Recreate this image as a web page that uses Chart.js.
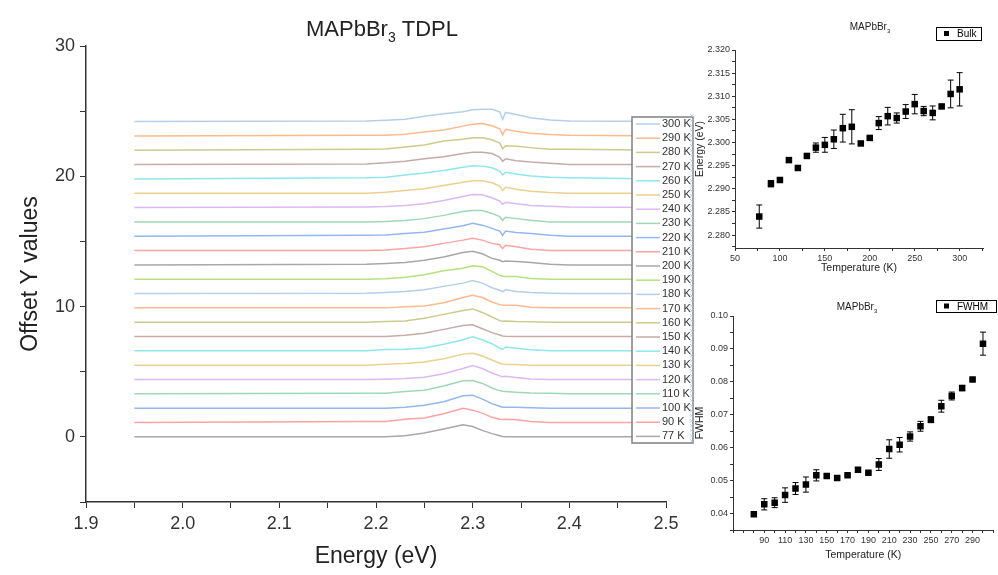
<!DOCTYPE html>
<html lang="en">
<head>
    <meta charset="UTF-8">
    <title>MAPbBr3 TDPL</title>
    <script src="https://cdn.jsdelivr.net/npm/chart.js"></script>
    <style>
        body {
            margin: 0;
            padding: 0;
            background: #fff;
            width: 998px;
            height: 575px;
            overflow: hidden;
            position: relative;
        }
        canvas {
            position: absolute;
        }
        #pl-chart { left: 0; top: 0; }
        #energy-chart { left: 690px; top: 0; }
        #fwhm-chart { left: 690px; top: 290px; }
    </style>
</head>
<body>
    <canvas id="pl-chart" width="700" height="575"></canvas>
    <canvas id="energy-chart" width="308" height="290"></canvas>
    <canvas id="fwhm-chart" width="308" height="285"></canvas>

    <script>
        // ---- PL spectra (offset stacked) ----
        const energyGrid = [1.95, 2.19, 2.21, 2.23, 2.25, 2.27, 2.29, 2.30, 2.31, 2.32, 2.328, 2.331, 2.334, 2.345, 2.36, 2.38, 2.40, 2.50];
        const tempLabels = ['77 K', '90 K', '100 K', '110 K', '120 K', '130 K', '140 K', '150 K', '160 K', '170 K', '180 K', '190 K',
                            '200 K', '210 K', '220 K', '230 K', '240 K', '250 K', '260 K', '270 K', '280 K', '290 K', '300 K'];
        const offsets = [0, 1.1, 2.2, 3.3, 4.4, 5.5, 6.6, 7.7, 8.8, 9.9, 11.0, 12.1, 13.2, 14.3, 15.4, 16.5, 17.6, 18.7, 19.8, 20.9, 22.0, 23.1, 24.2];

        const pl77  = [0, 0, 0, 0.08, 0.3, 0.6, 0.92, 0.8, 0.5, 0.25, 0.08, 0.02, 0, 0, 0, 0, 0, 0];
        const pl90  = [0, 0.08, 0.08, 0.25, 0.35, 0.67, 1.1, 0.95, 0.72, 0.4, 0.25, 0.23, 0.25, 0.22, 0.08, 0, 0, 0];
        const pl100 = [0, 0, 0, 0.08, 0.23, 0.5, 0.95, 1.0, 0.7, 0.35, 0.15, 0.08, 0.08, 0.07, 0.03, 0, 0, 0];
        const pl110 = [0, 0.05, 0.05, 0.18, 0.28, 0.6, 1.0, 1.03, 0.8, 0.45, 0.25, 0.2, 0.18, 0.12, 0.07, 0.05, 0, 0];
        const pl120 = [0, 0, 0.03, 0.08, 0.18, 0.45, 0.85, 1.07, 0.85, 0.5, 0.28, 0.22, 0.25, 0.15, 0.05, 0, 0, 0];
        const pl130 = [0, 0, 0.08, 0.13, 0.25, 0.5, 0.85, 0.92, 0.7, 0.4, 0.15, 0.1, 0.08, 0.05, 0, 0, 0, 0];
        const pl140 = [0, 0, 0.1, 0.13, 0.22, 0.5, 0.85, 1.08, 0.85, 0.55, 0.2, 0.12, 0.3, 0.2, 0.08, 0, 0, 0];
        const pl150 = [0, 0, 0, 0.1, 0.25, 0.55, 0.85, 0.9, 0.6, 0.3, 0.12, 0.05, 0.03, 0, 0, 0, 0, 0];
        const pl160 = [0, 0, 0.05, 0.1, 0.3, 0.6, 0.9, 1.02, 0.75, 0.4, 0.12, 0.08, 0.1, 0.05, 0.03, 0, 0, 0];
        const pl170 = [0, 0, 0, 0.08, 0.15, 0.4, 0.8, 0.97, 0.8, 0.45, 0.25, 0.2, 0.2, 0.2, 0.05, 0, 0, 0];
        const pl180 = [0, 0.03, 0.08, 0.15, 0.3, 0.55, 0.8, 1.0, 0.8, 0.45, 0.25, 0.13, 0.3, 0.15, 0.08, 0.03, 0, 0];
        const pl190 = [0, 0, 0.03, 0.15, 0.35, 0.65, 0.85, 1.03, 0.95, 0.6, 0.3, 0.22, 0.2, 0.2, 0.05, 0, 0, 0];
        const pl200 = [0, 0.05, 0.1, 0.18, 0.35, 0.6, 0.95, 1.05, 0.85, 0.5, 0.35, 0.25, 0.3, 0.25, 0.18, 0.05, 0, 0];
        const pl210 = [0, 0, 0.05, 0.15, 0.3, 0.55, 0.8, 0.95, 0.8, 0.55, 0.45, 0.15, 0.4, 0.3, 0.1, 0, 0, 0];
        const pl220 = [0, 0.08, 0.1, 0.2, 0.3, 0.55, 0.8, 1.0, 0.85, 0.6, 0.4, 0.07, 0.4, 0.28, 0.2, 0.08, 0, 0];
        const pl230 = [0, 0, 0.03, 0.1, 0.25, 0.5, 0.8, 0.88, 0.88, 0.65, 0.4, 0.12, 0.35, 0.25, 0.12, 0, 0, 0];
        const pl240 = [0, 0.05, 0.08, 0.15, 0.3, 0.55, 0.85, 1.0, 0.98, 0.75, 0.5, 0.25, 0.4, 0.3, 0.15, 0.1, 0.05, 0];
        const pl250 = [0, 0, 0.08, 0.2, 0.35, 0.6, 0.85, 0.95, 0.95, 0.8, 0.55, 0.2, 0.45, 0.3, 0.15, 0.05, 0, 0];
        const pl260 = [0, 0.08, 0.12, 0.3, 0.45, 0.65, 0.9, 1.0, 0.98, 0.85, 0.6, 0.3, 0.5, 0.38, 0.22, 0.12, 0.08, 0];
        const pl270 = [0, 0.05, 0.13, 0.25, 0.45, 0.6, 0.85, 0.95, 0.95, 0.85, 0.55, 0.25, 0.45, 0.3, 0.2, 0.1, 0, 0];
        const pl280 = [0, 0.08, 0.1, 0.25, 0.4, 0.7, 0.85, 0.95, 0.95, 0.8, 0.55, 0.12, 0.35, 0.3, 0.2, 0.08, 0.08, 0];
        const pl290 = [0, 0.05, 0.05, 0.12, 0.3, 0.45, 0.75, 0.9, 0.95, 0.78, 0.55, 0.1, 0.5, 0.35, 0.2, 0.1, 0.05, 0];
        const pl300 = [0, 0.05, 0.1, 0.18, 0.4, 0.6, 0.75, 0.9, 0.95, 0.95, 0.75, 0.18, 0.7, 0.55, 0.3, 0.12, 0.05, 0];
        const plSeries = [pl77, pl90, pl100, pl110, pl120, pl130, pl140, pl150, pl160, pl170, pl180, pl190,
                          pl200, pl210, pl220, pl230, pl240, pl250, pl260, pl270, pl280, pl290, pl300];

        // ---- peak energy vs temperature ----
        const bulkTemps = [77, 90, 100, 110, 120, 130, 140, 150, 160, 170, 180, 190, 200, 210, 220, 230, 240, 250, 260, 270, 280, 290, 300];
        const bulkEnergy = [2.2840, 2.2911, 2.2919, 2.2962, 2.2945, 2.2971, 2.2989, 2.2995, 2.3007, 2.3031, 2.3034, 2.2998,
                            2.3010, 2.3042, 2.3057, 2.3053, 2.3067, 2.3083, 2.3068, 2.3064, 2.3078, 2.3105, 2.3115];
        const bulkErr = [0.0025, 0.0007, 0.0004, 0.0005, 0.0003, 0.0003, 0.0010, 0.0016, 0.0020, 0.0030, 0.0037, 0.0002,
                         0.0003, 0.0014, 0.0019, 0.0011, 0.0015, 0.0021, 0.0010, 0.0015, 0.0004, 0.0030, 0.0036];

        // ---- FWHM vs temperature ----
        const fwhmTemps = [80, 90, 100, 110, 120, 130, 140, 150, 160, 170, 180, 190, 200, 210, 220, 230, 240, 250, 260, 270, 280, 290, 300];
        const fwhmValues = [0.0398, 0.0428, 0.0433, 0.0456, 0.0476, 0.0488, 0.0516, 0.0514, 0.0508, 0.0516, 0.0533, 0.0524,
                            0.0549, 0.0596, 0.0609, 0.0634, 0.0665, 0.0685, 0.0726, 0.0757, 0.0781, 0.0807, 0.0916];
        const fwhmErr = [0.0003, 0.0017, 0.0015, 0.0022, 0.0018, 0.0023, 0.0017, 0.0004, 0.0003, 0.0003, 0.0004, 0.0003,
                         0.0018, 0.0028, 0.0022, 0.0014, 0.0015, 0.0009, 0.0018, 0.0012, 0.0008, 0.0004, 0.0035];

        const palette = ['#a8a8a8', '#ffa3a3', '#93b7f2', '#9fd9b4', '#dbb8f6', '#ebd08f', '#8de7ec', '#c6aba7',
                         '#cacc8e', '#ffb98f', '#b3cfec', '#b5e27d'];
        const FONT = '"Liberation Sans", Arial, sans-serif';
        const AXIS = '#333';

        // draws "MAPbBr" with subscript 3 plus optional suffix, centred on cx
        function drawFormula(ctx, cx, y, size, suffix) {
            const sub = Math.round(size * 0.62);
            ctx.save();
            ctx.fillStyle = '#222';
            ctx.textBaseline = 'alphabetic';
            ctx.font = size + 'px ' + FONT;
            const w1 = ctx.measureText('MAPbBr').width;
            const w3 = ctx.measureText(suffix).width;
            ctx.font = sub + 'px ' + FONT;
            const w2 = ctx.measureText('3').width;
            let x = cx - (w1 + w2 + w3) / 2;
            ctx.font = size + 'px ' + FONT;
            ctx.fillText('MAPbBr', x, y);
            ctx.font = sub + 'px ' + FONT;
            ctx.fillText('3', x + w1, y + size * 0.25);
            ctx.font = size + 'px ' + FONT;
            ctx.fillText(suffix, x + w1 + w2, y);
            ctx.restore();
        }

        const onStep = (v, step) => Math.abs(v / step - Math.round(v / step)) < 1e-6;

        // ---------- main PL chart ----------
        const plDatasets = plSeries.map((vals, i) => ({
            label: tempLabels[i],
            data: energyGrid.map((e, j) => ({ x: e, y: offsets[i] + vals[j] })),
            borderColor: palette[i % palette.length],
            borderWidth: 1.5,
            pointRadius: 0,
            tension: 0,
            fill: false
        }));

        const plDecor = {
            id: 'plDecor',
            afterDraw(chart) {
                const ctx = chart.ctx;
                drawFormula(ctx, 382, 36, 22, ' TDPL');
                // legend box
                ctx.save();
                ctx.fillStyle = '#fff';
                ctx.fillRect(632, 117, 61, 326);
                ctx.strokeStyle = '#7f7f7f';
                ctx.lineWidth = 1.5;
                ctx.strokeRect(632, 117, 61, 326);
                ctx.font = '11px ' + FONT;
                ctx.textBaseline = 'middle';
                ctx.fillStyle = '#333';
                for (let k = 0; k < tempLabels.length; k++) {
                    const i = tempLabels.length - 1 - k;
                    const y = 124 + k * 14.2;
                    ctx.strokeStyle = palette[i % palette.length];
                    ctx.lineWidth = 1.5;
                    ctx.beginPath();
                    ctx.moveTo(636, y);
                    ctx.lineTo(660, y);
                    ctx.stroke();
                    ctx.fillText(tempLabels[i], 662, y);
                }
                // faint hatched selection strip beside the legend
                ctx.strokeStyle = '#b4c3dc';
                ctx.lineWidth = 0.8;
                ctx.beginPath();
                for (let y = 114; y < 440; y += 5) {
                    ctx.moveTo(690, y); ctx.lineTo(693.5, y + 3.5);
                    ctx.moveTo(693.5, y); ctx.lineTo(690, y + 3.5);
                }
                ctx.stroke();
                ctx.restore();
            }
        };

        new Chart(document.getElementById('pl-chart'), {
            type: 'line',
            data: { datasets: plDatasets },
            options: {
                responsive: false,
                animation: false,
                layout: { padding: { left: 0, top: 46, right: 34, bottom: 0 } },
                plugins: { legend: { display: false }, tooltip: { enabled: false } },
                scales: {
                    x: {
                        type: 'linear', min: 1.9, max: 2.5,
                        ticks: {
                            stepSize: 0.05, autoSkip: false, maxRotation: 0, padding: 5,
                            color: AXIS, font: { size: 18, family: FONT },
                            callback: v => onStep(v, 0.1) ? v.toFixed(1) : ''
                        },
                        grid: { drawOnChartArea: false, tickLength: 6, color: AXIS },
                        border: { color: AXIS, width: 1.5 },
                        title: { display: true, text: 'Energy (eV)', color: '#222', font: { size: 23, family: FONT }, padding: { bottom: 5 } },
                        afterFit(s) { s.height = 73; }
                    },
                    y: {
                        type: 'linear', min: -5, max: 30,
                        ticks: {
                            stepSize: 5, autoSkip: false, padding: 5,
                            color: AXIS, font: { size: 18, family: FONT },
                            callback: v => (v >= 0 && onStep(v, 10)) ? String(v) : ''
                        },
                        grid: { drawOnChartArea: false, tickLength: 6, color: AXIS },
                        border: { color: AXIS, width: 1.5 },
                        title: { display: true, text: 'Offset Y values', color: '#222', font: { size: 23, family: FONT }, padding: { top: 17 } },
                        afterFit(s) { s.width = 86; }
                    }
                }
            },
            plugins: [plDecor]
        });

        // ---------- error bars + small legends ----------
        const errorBars = {
            id: 'errorBars',
            beforeDatasetsDraw(chart, args, opts) {
                const { ctx, scales: { x, y } } = chart;
                ctx.save();
                ctx.strokeStyle = '#000';
                ctx.lineWidth = 1;
                opts.xs.forEach((t, i) => {
                    const px = x.getPixelForValue(t);
                    const top = y.getPixelForValue(opts.ys[i] + opts.err[i]);
                    const bot = y.getPixelForValue(opts.ys[i] - opts.err[i]);
                    ctx.beginPath();
                    ctx.moveTo(px, top); ctx.lineTo(px, bot);
                    ctx.moveTo(px - 3, top); ctx.lineTo(px + 3, top);
                    ctx.moveTo(px - 3, bot); ctx.lineTo(px + 3, bot);
                    ctx.stroke();
                });
                ctx.restore();
            },
            afterDraw(chart, args, opts) {
                const ctx = chart.ctx;
                drawFormula(ctx, opts.titleX, opts.titleY, 10, '');
                const b = opts.box;
                ctx.save();
                ctx.strokeStyle = '#000';
                ctx.lineWidth = 1;
                ctx.strokeRect(b[0] + 0.5, b[1] + 0.5, b[2], b[3]);
                ctx.fillStyle = '#000';
                ctx.fillRect(b[0] + 8, b[1] + b[3] / 2 - 2.5, 5, 5);
                ctx.font = '10px ' + FONT;
                ctx.textBaseline = 'middle';
                ctx.fillText(opts.name, b[0] + 21, b[1] + b[3] / 2 + 1);
                ctx.restore();
            }
        };

        function smallAxes(xMin, xMax, xStep, xLabel, yMin, yMax, yStep, yLabel, yTitle, xTitlePad, yWidth, xHeight) {
            return {
                x: {
                    type: 'linear', min: xMin, max: xMax,
                    ticks: {
                        stepSize: xStep, autoSkip: false, maxRotation: 0, padding: 2, includeBounds: false,
                        color: AXIS, font: { size: 9, family: FONT }, callback: xLabel
                    },
                    grid: { drawOnChartArea: false, tickLength: 3, color: AXIS },
                    border: { color: AXIS, width: 1 },
                    title: { display: true, text: 'Temperature (K)', color: '#222', font: { size: 10.5, family: FONT }, padding: { bottom: xTitlePad } },
                    afterFit(s) { s.height = xHeight; }
                },
                y: {
                    type: 'linear', min: yMin, max: yMax,
                    ticks: {
                        stepSize: yStep, autoSkip: false, padding: 2, includeBounds: false,
                        color: AXIS, font: { size: 9, family: FONT }, callback: yLabel
                    },
                    grid: { drawOnChartArea: false, tickLength: 3, color: AXIS },
                    border: { color: AXIS, width: 1 },
                    title: { display: true, text: yTitle, color: '#222', font: { size: 10.5, family: FONT }, padding: { top: 4 } },
                    afterFit(s) { s.width = yWidth; }
                }
            };
        }

        // ---------- energy vs T ----------
        new Chart(document.getElementById('energy-chart'), {
            type: 'scatter',
            data: {
                datasets: [{
                    label: 'Bulk',
                    data: bulkTemps.map((t, i) => ({ x: t, y: bulkEnergy[i] })),
                    pointStyle: 'rect', pointRadius: 4.6,
                    backgroundColor: '#000', borderColor: '#000', borderWidth: 0
                }]
            },
            options: {
                responsive: false,
                animation: false,
                layout: { padding: { left: 0, top: 50, right: 15, bottom: 0 } },
                plugins: {
                    legend: { display: false }, tooltip: { enabled: false },
                    errorBars: { xs: bulkTemps, ys: bulkEnergy, err: bulkErr, titleX: 180, titleY: 30, box: [246, 27, 45, 13], name: 'Bulk' }
                },
                scales: smallAxes(50, 326, 25, v => onStep(v, 50) ? String(v) : '',
                                  2.2772, 2.320, 0.0025, v => onStep(v, 0.005) ? v.toFixed(3) : '',
                                  'Energy (eV)', 16, 45, 42)
            },
            plugins: [errorBars]
        });

        // ---------- FWHM vs T ----------
        new Chart(document.getElementById('fwhm-chart'), {
            type: 'scatter',
            data: {
                datasets: [{
                    label: 'FWHM',
                    data: fwhmTemps.map((t, i) => ({ x: t, y: fwhmValues[i] })),
                    pointStyle: 'rect', pointRadius: 4.6,
                    backgroundColor: '#000', borderColor: '#000', borderWidth: 0
                }]
            },
            options: {
                responsive: false,
                animation: false,
                layout: { padding: { left: 0, top: 26, right: 1, bottom: 0 } },
                plugins: {
                    legend: { display: false }, tooltip: { enabled: false },
                    errorBars: { xs: fwhmTemps, ys: fwhmValues, err: fwhmErr, titleX: 167, titleY: 20, box: [246, 10, 60, 12], name: 'FWHM' }
                },
                scales: smallAxes(60, 310, 10, v => (v >= 90 && v <= 290 && onStep(v - 90, 20)) ? String(v) : '',
                                  0.035, 0.10, 0.005, v => onStep(v, 0.01) ? v.toFixed(2) : '',
                                  'FWHM', 14, 43, 45)
            },
            plugins: [errorBars]
        });
    </script>
</body>
</html>
